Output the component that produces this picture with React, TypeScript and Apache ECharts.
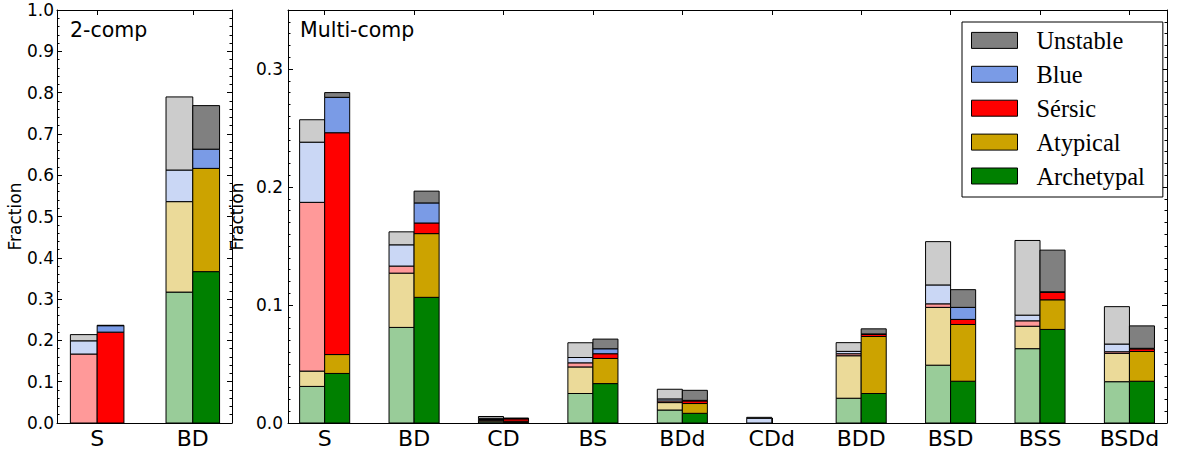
import React, { useEffect, useRef } from 'react';
import * as echarts from 'echarts';

const FONT = 'DejaVu Sans';
const LEGEND_FONT = 'Liberation Serif';

// Stack order, bottom to top
const components = ['Archetypal', 'Atypical', 'Sérsic', 'Blue', 'Unstable'];
const solidColors = ['#008000', '#CCA300', '#FF0000', '#7A9BE6', '#808080'];
const fadedColors = ['#99CC99', '#EBDA99', '#FF9999', '#CAD7F5', '#CCCCCC'];
const legendOrder = ['Unstable', 'Blue', 'Sérsic', 'Atypical', 'Archetypal'];

const twoCompCats = ['S', 'BD'];
const multiCompCats = ['S', 'BD', 'CD', 'BS', 'BDd', 'CDd', 'BDD', 'BSD', 'BSS', 'BSDd'];

const twoYTicks = [0, 0.1, 0.2, 0.3, 0.4, 0.5, 0.6, 0.7, 0.8, 0.9, 1.0];
const multiYTicks = [0, 0.1, 0.2, 0.3];

// 2-comp, faded (left bar of each pair)
const twoFadedArchetypal = [0, 0.317];
const twoFadedAtypical = [0, 0.219];
const twoFadedSersic = [0.167, 0];
const twoFadedBlue = [0.032, 0.0765];
const twoFadedUnstable = [0.015, 0.177];

// 2-comp, solid (right bar of each pair)
const twoSolidArchetypal = [0, 0.3665];
const twoSolidAtypical = [0, 0.25];
const twoSolidSersic = [0.22, 0];
const twoSolidBlue = [0.0156, 0.0465];
const twoSolidUnstable = [0.001, 0.1055];

// Multi-comp, faded
const multiFadedArchetypal = [0.031, 0.081, 0.001, 0.025, 0.011, 0, 0.021, 0.049, 0.063, 0.035];
const multiFadedAtypical = [0.013, 0.046, 0.001, 0.0225, 0.0063, 0, 0.036, 0.049, 0.019, 0.024];
const multiFadedSersic = [0.143, 0.006, 0.001, 0.0035, 0.0014, 0, 0.0017, 0.003, 0.0046, 0.0014];
const multiFadedBlue = [0.051, 0.018, 0.001, 0.0045, 0.0017, 0.004, 0.002, 0.016, 0.0048, 0.0065];
const multiFadedUnstable = [0.019, 0.011, 0.0015, 0.0125, 0.0082, 0.0008, 0.0074, 0.0367, 0.0633, 0.0317];

// Multi-comp, solid
const multiSolidArchetypal = [0.042, 0.1065, 0.0005, 0.0334, 0.0082, 0, 0.025, 0.0354, 0.0793, 0.0354];
const multiSolidAtypical = [0.016, 0.054, 0.001, 0.0213, 0.0083, 0, 0.0483, 0.0481, 0.0251, 0.0252];
const multiSolidSersic = [0.188, 0.009, 0.002, 0.004, 0.0022, 0, 0.0017, 0.0043, 0.0063, 0.0022];
const multiSolidBlue = [0.03, 0.017, 0.0003, 0.0042, 0.0005, 0, 0.0005, 0.0102, 0.0005, 0.0005];
const multiSolidUnstable = [0.004, 0.01, 0.0004, 0.0082, 0.0085, 0, 0.0043, 0.015, 0.0353, 0.019];

const BAR_W = 0.28;

function buildSeries(
  cats: string[],
  faded: number[][],
  solid: number[][],
  xAxisIndex: number,
  yAxisIndex: number
) {
  const out: any[] = [];
  const variants = [
    { vals: faded, colors: fadedColors, offset: -BAR_W, suffix: ' (faded)' },
    { vals: solid, colors: solidColors, offset: 0, suffix: '' },
  ];
  variants.forEach((v) => {
    const bottom = cats.map(() => 0);
    v.vals.forEach((arr, j) => {
      const data = cats.map((_, i) => {
        const b = bottom[i];
        const t = b + arr[i];
        bottom[i] = t;
        return [i, b, t];
      });
      const color = v.colors[j];
      const offset = v.offset;
      out.push({
        type: 'custom',
        name: components[j] + v.suffix,
        xAxisIndex,
        yAxisIndex,
        silent: true,
        clip: false,
        itemStyle: { color, borderColor: '#000', borderWidth: 1 },
        encode: { x: 0, y: [1, 2] },
        data,
        renderItem: (params: any, api: any) => {
          const x = api.value(0);
          const y0 = api.value(1);
          const y1 = api.value(2);
          if (!(y1 - y0 > 0)) return null;
          const p0 = api.coord([x + offset, y0]);
          const p1 = api.coord([x + offset + BAR_W, y1]);
          return {
            type: 'rect',
            shape: { x: p0[0], y: p1[1], width: p1[0] - p0[0], height: p0[1] - p1[1] },
            style: { fill: color, stroke: '#000', lineWidth: 1 },
          };
        },
      });
    });
  });
  return out;
}

function xAxisDef(gridIndex: number, min: number, max: number, cats: string[], position: string, labels: boolean) {
  return {
    type: 'value',
    gridIndex,
    position,
    min,
    max,
    splitNumber: 10,
    minInterval: 1,
    maxInterval: 1,
    axisLine: { show: true, onZero: false, lineStyle: { color: '#000', width: 1 } },
    axisTick: { show: true, inside: true, length: 5, lineStyle: { color: '#000', width: 1 } },
    axisLabel: labels
      ? {
          show: true,
          margin: 4,
          fontSize: 22,
          color: '#000',
          fontFamily: FONT,
          formatter: (v: number) => {
            const r = Math.round(v);
            return Math.abs(v - r) < 1e-6 && cats[r] !== undefined ? cats[r] : '';
          },
        }
      : { show: false },
    splitLine: { show: false },
  };
}

function yMajorDef(gridIndex: number, max: number, ticks: number[], position: string, labels: boolean, margin: number) {
  return {
    type: 'value',
    gridIndex,
    position,
    min: 0,
    max,
    interval: 0.1,
    name: labels ? 'Fraction' : '',
    nameLocation: 'middle',
    nameGap: 33,
    nameTextStyle: { fontSize: 17, color: '#000', fontFamily: FONT },
    axisLine: { show: true, onZero: false, lineStyle: { color: '#000', width: 1 } },
    axisTick: { show: true, inside: true, length: 5, lineStyle: { color: '#000', width: 1 } },
    axisLabel: labels
      ? {
          show: true,
          margin,
          fontSize: 17,
          color: '#000',
          fontFamily: FONT,
          formatter: (v: number) => {
            const hit = ticks.find((t) => Math.abs(t - v) < 1e-6);
            return hit !== undefined ? hit.toFixed(1) : '';
          },
        }
      : { show: false },
    splitLine: { show: false },
  };
}

function yMinorDef(gridIndex: number, max: number, position: string, interval: number) {
  return {
    type: 'value',
    gridIndex,
    position,
    min: 0,
    max,
    interval,
    axisLine: { show: false, onZero: false },
    axisTick: { show: true, inside: true, length: 2.5, lineStyle: { color: '#000', width: 1 } },
    axisLabel: { show: false },
    splitLine: { show: false },
  };
}

export default function App() {
  const ref = useRef<HTMLDivElement>(null);

  useEffect(() => {
    if (!ref.current) return;
    const chart = echarts.init(ref.current, null, { renderer: 'svg' });

    const twoFaded = [twoFadedArchetypal, twoFadedAtypical, twoFadedSersic, twoFadedBlue, twoFadedUnstable];
    const twoSolid = [twoSolidArchetypal, twoSolidAtypical, twoSolidSersic, twoSolidBlue, twoSolidUnstable];
    const multiFaded = [multiFadedArchetypal, multiFadedAtypical, multiFadedSersic, multiFadedBlue, multiFadedUnstable];
    const multiSolid = [multiSolidArchetypal, multiSolidAtypical, multiSolidSersic, multiSolidBlue, multiSolidUnstable];

    const option: any = {
      animation: false,
      backgroundColor: '#fff',
      textStyle: { fontFamily: FONT },
      grid: [
        { left: 57, top: 10, width: 175, height: 413, containLabel: false },
        { left: 288, top: 10, width: 879, height: 413, containLabel: false },
      ],
      xAxis: [
        xAxisDef(0, -0.42, 1.41, twoCompCats, 'bottom', true),
        xAxisDef(0, -0.42, 1.41, twoCompCats, 'top', false),
        xAxisDef(1, -0.41, 9.42, multiCompCats, 'bottom', true),
        xAxisDef(1, -0.41, 9.42, multiCompCats, 'top', false),
      ],
      yAxis: [
        yMajorDef(0, 1.0, twoYTicks, 'left', true, 3),
        yMajorDef(0, 1.0, twoYTicks, 'right', false, 3),
        yMinorDef(0, 1.0, 'left', 0.02),
        yMinorDef(0, 1.0, 'right', 0.02),
        yMajorDef(1, 0.35, multiYTicks, 'left', true, 5),
        yMajorDef(1, 0.35, multiYTicks, 'right', false, 5),
        yMinorDef(1, 0.35, 'left', 0.01),
        yMinorDef(1, 0.35, 'right', 0.01),
      ],
      legend: {
        show: true,
        orient: 'vertical',
        left: 962,
        top: 22,
        padding: [6.4, 18, 9, 9],
        itemWidth: 46,
        itemHeight: 16,
        itemGap: 9.9,
        selectedMode: false,
        backgroundColor: '#fff',
        borderColor: '#000',
        borderWidth: 1,
        textStyle: {
          fontFamily: LEGEND_FONT,
          fontSize: 24.4,
          color: '#000',
          padding: [0, 0, 0, 14],
        },
        data: legendOrder.map((n) => {
          const j = components.indexOf(n);
          return {
            name: n,
            icon: 'rect',
            itemStyle: { color: solidColors[j], borderColor: '#000', borderWidth: 1 },
          };
        }),
      },
      graphic: [
        {
          type: 'text',
          left: 70,
          top: 19,
          style: { text: '2-comp', font: `20.5px "${FONT}"`, fill: '#000' },
        },
        {
          type: 'text',
          left: 300,
          top: 19,
          style: { text: 'Multi-comp', font: `20.5px "${FONT}"`, fill: '#000' },
        },
      ],
      series: [
        ...buildSeries(twoCompCats, twoFaded, twoSolid, 0, 0),
        ...buildSeries(multiCompCats, multiFaded, multiSolid, 2, 4),
      ],
    };

    chart.setOption(option);
    return () => {
      chart.dispose();
    };
  }, []);

  return (
    <div
      ref={ref}
      style={{ position: 'absolute', left: 0, top: 0, width: 1178, height: 450, background: '#fff' }}
    />
  );
}
